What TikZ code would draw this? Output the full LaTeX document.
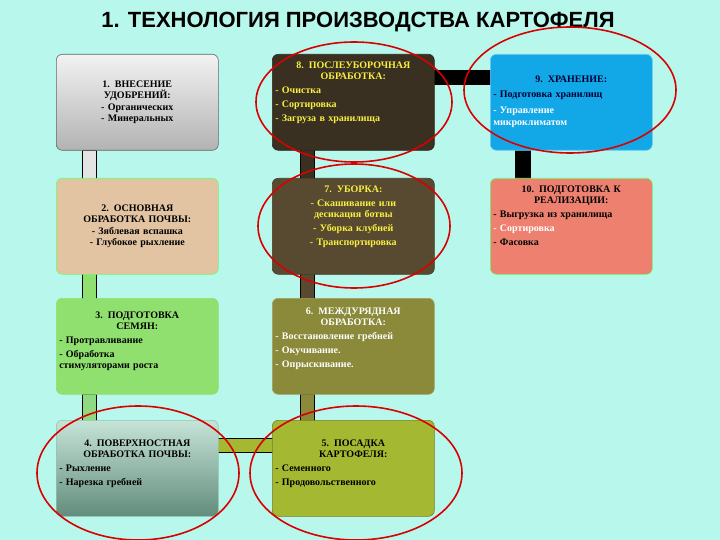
\documentclass[tikz,border=0pt]{standalone}
\usepackage{fontspec}
\setmainfont{Liberation Serif}
\newfontfamily\titlefont{Liberation Sans}
\begin{document}
\begin{tikzpicture}[x=1pt,y=-1pt,
 box/.style={rounded corners=6pt,draw=#1!80!black,line width=0.6pt,minimum width=162pt,minimum height=96pt,anchor=north west},
 bar/.style={draw=black,line width=0.5pt},
 oval/.style={draw=red!85!black,line width=1.6pt},
 tx/.style={font=\bfseries\fontsize{10}{14}\selectfont,align=left,text width=156pt},
 tc/.style={font=\bfseries\fontsize{10}{11.5}\selectfont,align=center,text width=156pt}]
\definecolor{bg}{HTML}{B8F8EC}
\definecolor{cgray}{HTML}{D8D8D8}
\definecolor{cdark}{HTML}{3A3022}
\definecolor{cblue}{HTML}{12A8E8}
\definecolor{ctan}{HTML}{E2C4A2}
\definecolor{cbrown}{HTML}{584A30}
\definecolor{csalmon}{HTML}{EE8070}
\definecolor{clgreen}{HTML}{90E070}
\definecolor{colive}{HTML}{8A8A3A}
\definecolor{cteal}{HTML}{8CC8B0}
\definecolor{cgreen}{HTML}{A4B832}
\definecolor{cyel}{HTML}{F8F040}
\useasboundingbox (0,0) rectangle (720,540);
\fill[bg] (0,0) rectangle (720,540);
\node[font=\titlefont\bfseries\fontsize{22}{24}\selectfont] (title) at (358,22) {1. ТЕХНОЛОГИЯ ПРОИЗВОДСТВА КАРТОФЕЛЯ};
% bars
\filldraw[bar,fill=cgray!70] (82,150) rectangle (96,180);
\filldraw[bar,fill=clgreen] (82,270) rectangle (96,300);
\filldraw[bar,fill=clgreen!70!cteal] (82,394) rectangle (96,422);
\filldraw[bar,fill=cgreen] (216,438) rectangle (274,452);
\filldraw[bar,fill=colive] (300,394) rectangle (314,422);
\filldraw[bar,fill=cbrown] (300,270) rectangle (314,300);
\filldraw[bar,fill=cdark] (300,148) rectangle (314,180);
\filldraw[bar,fill=black] (434,70) rectangle (492,84);
\filldraw[bar,fill=black] (515,148) rectangle (530,180);
% boxes
\node[box=gray,top color=white!90!gray,bottom color=gray!60] (b1) at (56,54) {};
\node[box=cdark,fill=cdark] (b8) at (272,54) {};
\node[box=cblue,fill=cblue,draw=cblue!60!white] (b9) at (490,54) {};
\node[box=ctan,fill=ctan,draw=green!60!white] (b2) at (56,178) {};
\node[box=cbrown,fill=cbrown] (b7) at (272,178) {};
\node[box=csalmon,fill=csalmon,draw=green!60!white] (b10) at (490,178) {};
\node[box=clgreen,fill=clgreen,draw=clgreen] (b3) at (56,298) {};
\node[box=colive,fill=colive,draw=colive!80!white] (b6) at (272,298) {};
\node[box=cteal,top color=cteal!50!white,bottom color=cteal!70!black,draw=cteal] (b4) at (56,420) {};
\node[box=cgreen,fill=cgreen,draw=cgreen!70!black] (b5) at (272,420) {};
% texts
\node[tc,anchor=center] (t1) at (b1.center) {1. ВНЕСЕНИЕ\\УДОБРЕНИЙ:\\- Органических\\- Минеральных};
\node[tc,anchor=center] (t2) at (b2.center) {2. ОСНОВНАЯ\\ОБРАБОТКА ПОЧВЫ:\\- Зяблевая вспашка\\- Глубокое рыхление};
\node[tx,anchor=north,text=cyel] (t8) at ([yshift=-4pt]b8.north) {\centering 8. ПОСЛЕУБОРОЧНАЯ\\[-3pt] ОБРАБОТКА:\par\raggedright - Очистка\\- Сортировка\\- Загруза в хранилища};
\node[tx,anchor=north,text=black!80!blue,font=\bfseries\fontsize{10}{12.5}\selectfont] (t9) at ([yshift=-18pt]b9.north) {\centering 9. ХРАНЕНИЕ:\\[3pt]\raggedright - Подготовка хранилищ\\[3pt]\textcolor{white}{- Управление\\микроклиматом}};
\node[tc,anchor=north,text=cyel,font=\bfseries\fontsize{10}{14}\selectfont] (t7) at ([yshift=-4pt]b7.north) {7. УБОРКА:\\- Скашивание или\\[-3pt] десикация ботвы\\- Уборка клубней\\- Транспортировка};
\node[tx,anchor=north] (t10) at ([yshift=-4pt]b10.north) {\centering 10. ПОДГОТОВКА К\\[-3pt] РЕАЛИЗАЦИИ:\par\raggedright - Выгрузка из хранилища\\\textcolor{white}{- Сортировка}\\- Фасовка};
\node[tx,anchor=north] (t3) at ([yshift=-10pt]b3.north) {\centering 3. ПОДГОТОВКА\\[-3pt] СЕМЯН:\par\raggedright - Протравливание\\- Обработка\\[-3pt] стимуляторами роста};
\node[tx,anchor=north,text=white] (t6) at ([yshift=-6pt]b6.north) {\centering 6. МЕЖДУРЯДНАЯ\\[-3pt] ОБРАБОТКА:\par\raggedright - Восстановление гребней\\- Окучивание.\\- Опрыскивание.};
\node[tx,anchor=north] (t4) at ([yshift=-16pt]b4.north) {\centering 4. ПОВЕРХНОСТНАЯ\\[-3pt] ОБРАБОТКА ПОЧВЫ:\par\raggedright - Рыхление\\- Нарезка гребней};
\node[tx,anchor=north] (t5) at ([yshift=-16pt]b5.north) {\centering 5. ПОСАДКА\\[-3pt] КАРТОФЕЛЯ:\par\raggedright - Семенного\\- Продовольственного};
% ovals
\draw[oval] (354,102) ellipse [x radius=98, y radius=60];
\draw[oval] (354,226) ellipse [x radius=96, y radius=62];
\draw[oval] (570,90) ellipse [x radius=106, y radius=63];
\draw[oval] (138,473) ellipse [x radius=101, y radius=67];
\draw[oval] (356,473) ellipse [x radius=106, y radius=67];
\end{tikzpicture}
\end{document}
